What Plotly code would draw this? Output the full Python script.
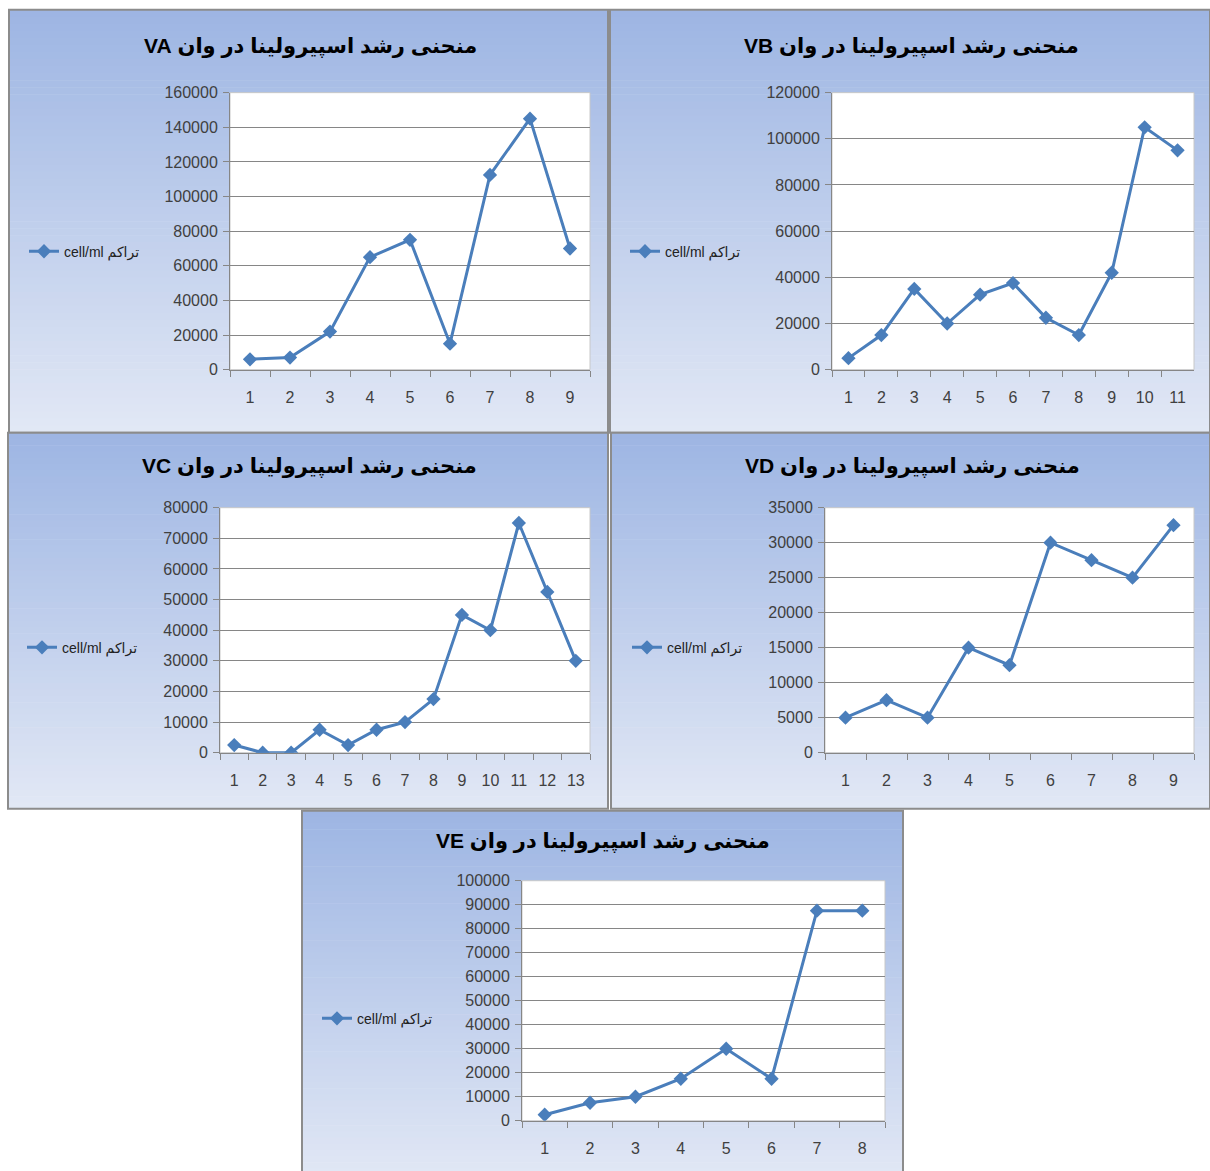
import plotly.graph_objects as go

W, H = 1210, 1171

# ---------------- data ----------------
days_a = ["1", "2", "3", "4", "5", "6", "7", "8", "9"]
va = [6000, 7000, 22000, 65000, 75000, 15000, 112500, 145000, 70000]

days_b = ["1", "2", "3", "4", "5", "6", "7", "8", "9", "10", "11"]
vb = [5000, 15000, 35000, 20000, 32500, 37500, 22500, 15000, 42000, 105000, 95000]

days_c = ["1", "2", "3", "4", "5", "6", "7", "8", "9", "10", "11", "12", "13"]
vc = [2500, 0, 0, 7500, 2500, 7500, 10000, 17500, 45000, 40000, 75000, 52500, 30000]

days_d = ["1", "2", "3", "4", "5", "6", "7", "8", "9"]
vd = [5000, 7500, 5000, 15000, 12500, 30000, 27500, 25000, 32500]

days_e = ["1", "2", "3", "4", "5", "6", "7", "8"]
ve = [2500, 7500, 10000, 17500, 30000, 17500, 87500, 87500]

titles = [
    "\u202bمنحنی رشد اسپیرولینا در وان VA\u202c",
    "\u202bمنحنی رشد اسپیرولینا در وان VB\u202c",
    "\u202bمنحنی رشد اسپیرولینا در وان VC\u202c",
    "\u202bمنحنی رشد اسپیرولینا در وان VD\u202c",
    "\u202bمنحنی رشد اسپیرولینا در وان VE\u202c",
]
series_name = "\u202bتراکم cell/ml\u202c"
y_max = [160000, 120000, 80000, 35000, 100000]
y_step = [20000, 20000, 10000, 5000, 10000]

# ---------------- layout (pixels) ----------------
panels = [
    dict(box=(9, 9, 608, 432), plot=(230, 92, 590, 369), title=(310, 45), legend=(24, 251)),
    dict(box=(610, 9, 1210, 432), plot=(832, 92, 1194, 369), title=(911, 45), legend=(625, 251)),
    dict(box=(8, 432, 608, 808), plot=(220, 507, 590, 752), title=(309, 465), legend=(22, 647)),
    dict(box=(611, 432, 1210, 808), plot=(825, 507, 1194, 752), title=(912, 465), legend=(627, 647)),
    dict(box=(302, 810, 903, 1180), plot=(522, 880, 885, 1120), title=(603, 840), legend=(317, 1018)),
]
data = [(days_a, va), (days_b, vb), (days_c, vc), (days_d, vd), (days_e, ve)]

LINE = "#4a7ebb"
GRID = "#868686"
TXT = "#404040"
TOP = (157, 181, 227)
BOT = (226, 232, 245)

# vertical compensation observed in the photographed page
VS, VO = 0.9854, 7.35


def px(x):
    return x / W


def py(y):
    return 1 - ((y - VO) / VS) / H


def mix(t):
    r = [round(TOP[i] + (BOT[i] - TOP[i]) * t) for i in range(3)]
    return f"rgb({r[0]},{r[1]},{r[2]})"


fig = go.Figure()
shapes = []
annotations = []
layout = {}

for k, (p, (cats, vals)) in enumerate(zip(panels, data)):
    n = k + 1
    xa = "x" if n == 1 else f"x{n}"
    ya = "y" if n == 1 else f"y{n}"
    lg = "legend" if n == 1 else f"legend{n}"

    fig.add_trace(go.Scatter(
        x=cats, y=vals, mode="lines+markers", name=series_name,
        xaxis=xa, yaxis=ya, legend=lg, showlegend=True,
        line=dict(color=LINE, width=3),
        marker=dict(symbol="diamond", size=11, color=LINE),
    ))

    # gradient panel background
    x0, y0, x1, y1 = p["box"]
    nb = 60
    for i in range(nb):
        ya0 = y0 + (y1 - y0) * i / nb
        ya1 = y0 + (y1 - y0) * (i + 1) / nb + 0.6
        shapes.append(dict(type="rect", xref="paper", yref="paper",
                           x0=px(x0), x1=px(x1), y0=py(ya0), y1=py(min(ya1, y1)),
                           fillcolor=mix((i + 0.5) / nb), line=dict(width=0), layer="below"))
    shapes.append(dict(type="rect", xref="paper", yref="paper",
                       x0=px(x0), x1=px(x1), y0=py(y0), y1=py(y1),
                       fillcolor="rgba(0,0,0,0)", line=dict(color="#8c8c8c", width=2), layer="below"))
    # plot area
    a0, b0, a1, b1 = p["plot"]
    shapes.append(dict(type="rect", xref="paper", yref="paper",
                       x0=px(a0), x1=px(a1), y0=py(b0), y1=py(b1),
                       fillcolor="white", line=dict(color="#c8c8c8", width=1), layer="below"))

    layout["xaxis" if n == 1 else f"xaxis{n}"] = dict(
        domain=[px(a0), px(a1)], anchor=ya, type="category",
        range=[-0.5, len(cats) - 0.5], tickson="boundaries",
        ticks="outside", ticklen=6, tickcolor=GRID, showline=True, linecolor=GRID,
        showgrid=False, ticklabelstandoff=13,
        tickfont=dict(family="Liberation Sans, Arial, sans-serif", size=16, color=TXT),
        fixedrange=True,
    )
    layout["yaxis" if n == 1 else f"yaxis{n}"] = dict(
        domain=[py(b1), py(b0)], anchor=xa, range=[0, y_max[k]],
        tickmode="linear", tick0=0, dtick=y_step[k], tickformat="d",
        ticks="outside", ticklen=6, tickcolor=GRID, showline=True, linecolor=GRID,
        showgrid=True, gridcolor=GRID, gridwidth=1, zeroline=False,
        tickfont=dict(family="Liberation Sans, Arial, sans-serif", size=16, color=TXT),
        ticklabelstandoff=2, fixedrange=True,
    )
    lx, ly = p["legend"]
    layout[lg] = dict(x=px(lx), y=py(ly), xanchor="left", yanchor="middle",
                      bgcolor="rgba(0,0,0,0)", borderwidth=0,
                      font=dict(family="Liberation Sans, DejaVu Sans, sans-serif", size=14, color="#222"))

    tx, ty = p["title"]
    annotations.append(dict(x=px(tx), y=py(ty), xref="paper", yref="paper",
                            text=f"<b>{titles[k]}</b>", showarrow=False,
                            xanchor="center", yanchor="middle",
                            font=dict(family="Liberation Sans, DejaVu Sans, sans-serif", size=21, color="#000")))

fig.update_layout(
    width=W, height=H, margin=dict(l=0, r=0, t=0, b=0, pad=0),
    paper_bgcolor="white", plot_bgcolor="white",
    shapes=shapes, annotations=annotations, **layout,
)

fig.write_html(
    "out.html",
    config={"displayModeBar": False},
    post_script=(
        "document.body.style.margin='0';"
        "document.body.style.overflow='hidden';"
        "document.documentElement.style.overflow='hidden';"
    ),
)
